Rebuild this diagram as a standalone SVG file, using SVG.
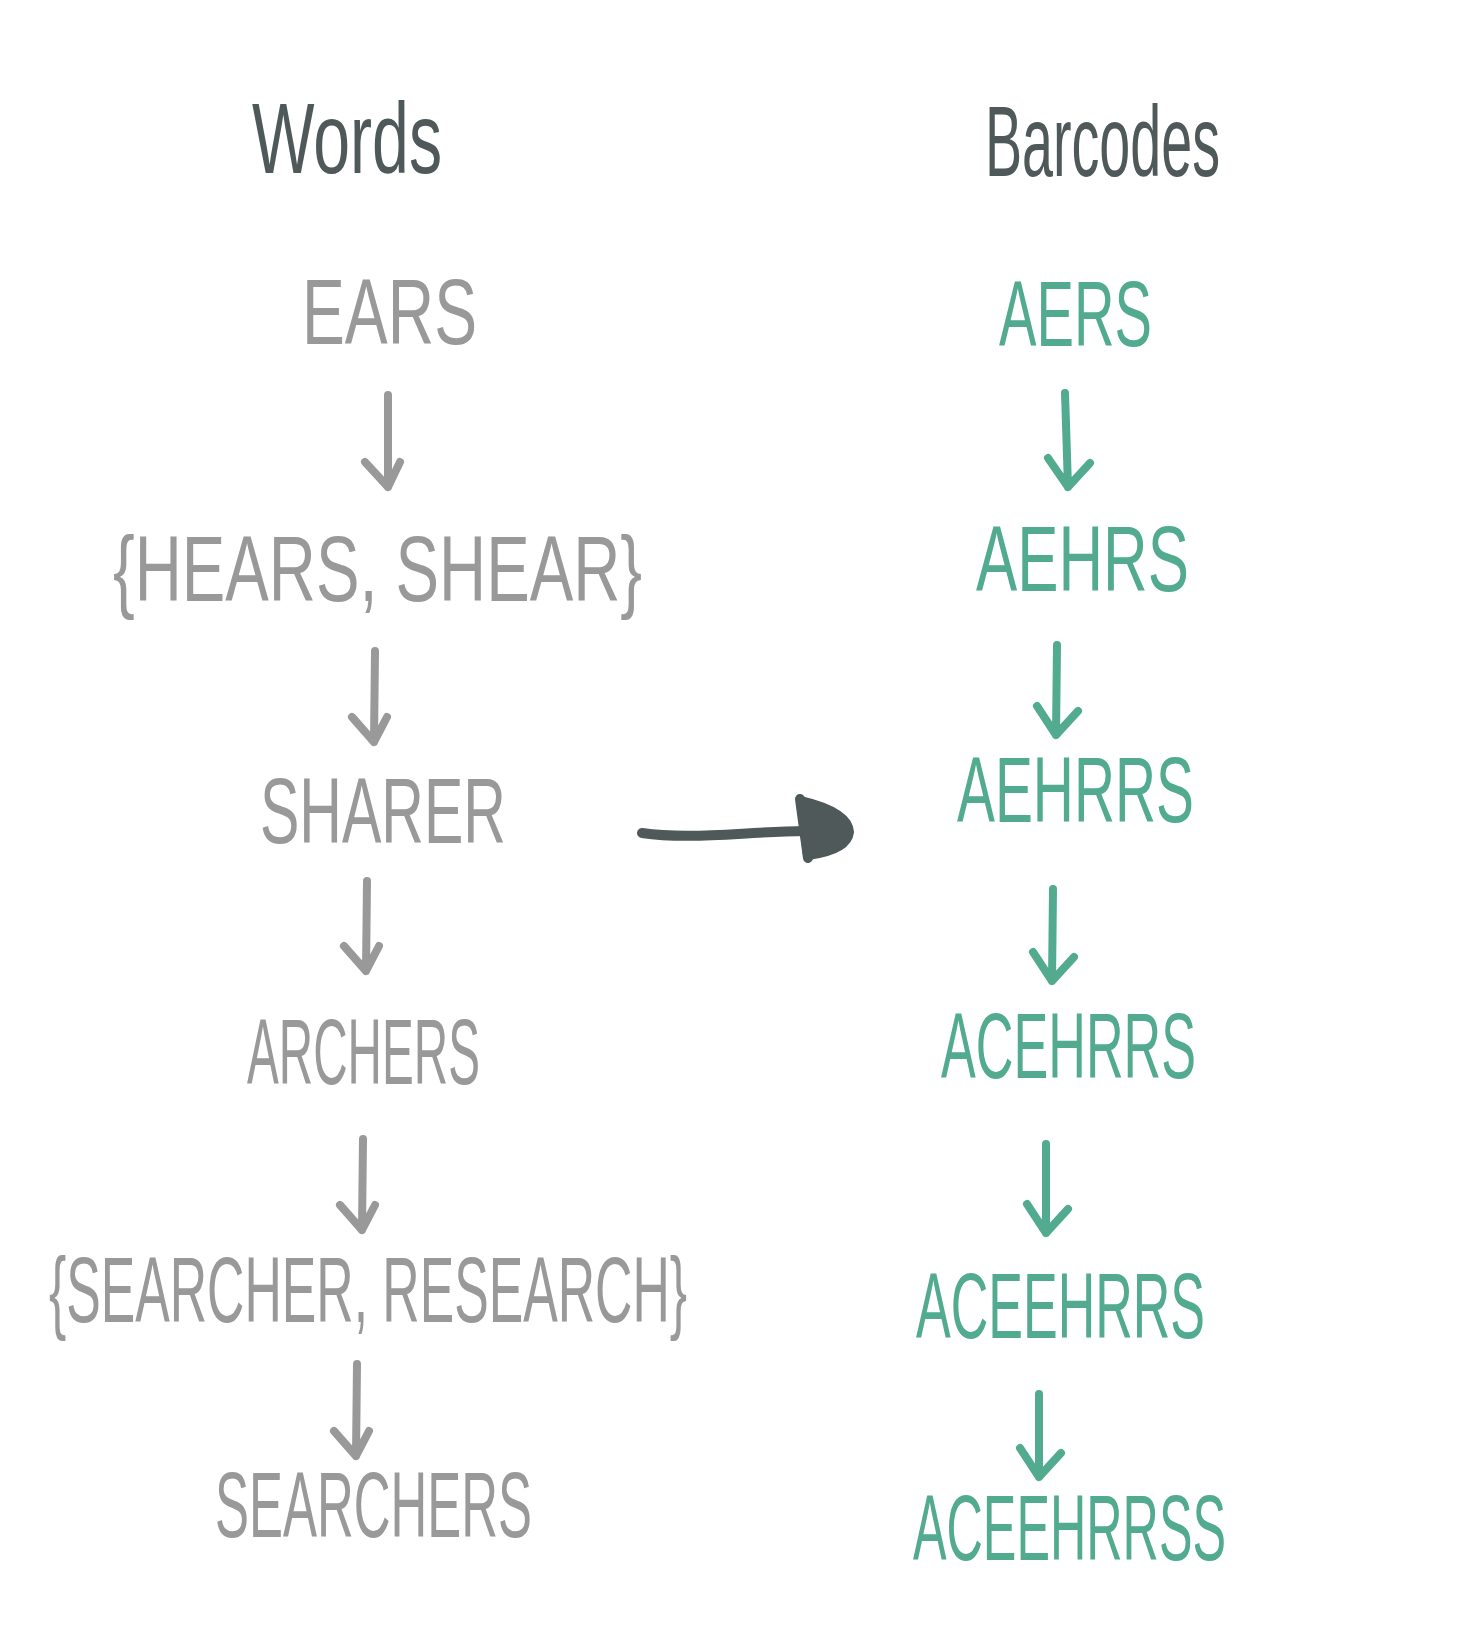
<svg xmlns="http://www.w3.org/2000/svg" width="1465" height="1645" viewBox="0 0 1465 1645">
<style>
text{font-family:"Liberation Sans","DejaVu Sans",sans-serif;}
.h{fill:#4f5959;font-size:100px;}
.g{fill:#999999;font-size:92px;}
.t{fill:#52ab8f;font-size:92px;}
.ag{fill:none;stroke:#999999;stroke-width:8;stroke-linecap:round;stroke-linejoin:round;}
.at{fill:none;stroke:#52ab8f;stroke-width:8;stroke-linecap:round;stroke-linejoin:round;}
.ad{stroke:#4f5959;stroke-width:10;stroke-linecap:round;stroke-linejoin:round;}
</style>
<rect width="1465" height="1645" fill="#ffffff"/>
<g id="words-title"><text class="h" x="252" y="173" textLength="190" lengthAdjust="spacingAndGlyphs">Words</text></g>
<g id="barcodes-title"><text class="h" x="985" y="176" textLength="235" lengthAdjust="spacingAndGlyphs">Barcodes</text></g>
<g id="w1"><text class="g" x="302" y="344" textLength="175" lengthAdjust="spacingAndGlyphs">EARS</text></g>
<g id="w2"><text class="g" x="113" y="601" textLength="529" lengthAdjust="spacingAndGlyphs">{HEARS, SHEAR}</text></g>
<g id="w3"><text class="g" x="260" y="843" textLength="246" lengthAdjust="spacingAndGlyphs">SHARER</text></g>
<g id="w4"><text class="g" x="247" y="1084" textLength="233" lengthAdjust="spacingAndGlyphs">ARCHERS</text></g>
<g id="w5"><text class="g" x="49" y="1322" textLength="638" lengthAdjust="spacingAndGlyphs">{SEARCHER, RESEARCH}</text></g>
<g id="w6"><text class="g" x="215" y="1537" textLength="317" lengthAdjust="spacingAndGlyphs">SEARCHERS</text></g>
<g id="b1"><text class="t" x="999" y="346" textLength="153" lengthAdjust="spacingAndGlyphs">AERS</text></g>
<g id="b2"><text class="t" x="976" y="591" textLength="213" lengthAdjust="spacingAndGlyphs">AEHRS</text></g>
<g id="b3"><text class="t" x="957" y="822" textLength="237" lengthAdjust="spacingAndGlyphs">AEHRRS</text></g>
<g id="b4"><text class="t" x="941" y="1078" textLength="255" lengthAdjust="spacingAndGlyphs">ACEHRRS</text></g>
<g id="b5"><text class="t" x="916" y="1338" textLength="289" lengthAdjust="spacingAndGlyphs">ACEEHRRS</text></g>
<g id="b6"><text class="t" x="913" y="1560" textLength="313" lengthAdjust="spacingAndGlyphs">ACEEHRRSS</text></g>
<g id="connectors">
<path class="ag" d="M388,395 L388,487 M365,462 L388,487 L400,462"/>
<path class="ag" d="M375,651 L374,742 M352,717 L374,742 L387,717"/>
<path class="ag" d="M367,881 L366,971 M344,946 L366,971 L379,946"/>
<path class="ag" d="M363,1139 L362,1230 M340,1205 L362,1230 L375,1205"/>
<path class="ag" d="M357,1364 L356,1456 M334,1431 L356,1456 L369,1431"/>
<path class="at" d="M1065,393 L1068,487 M1048,458 L1068,487 L1090,463"/>
<path class="at" d="M1057,645 L1056,735 M1037,706 L1056,735 L1078,711"/>
<path class="at" d="M1053,889 L1052,981 M1033,952 L1052,981 L1074,957"/>
<path class="at" d="M1046,1144 L1046,1233 M1027,1204 L1046,1233 L1068,1209"/>
<path class="at" d="M1039,1394 L1039,1477 M1020,1448 L1039,1477 L1061,1453"/>
<path class="ad" fill="none" d="M642,833 C690,840 740,832 805,831"/>
<path class="ad" fill="#4f5959" d="M801,801 Q848,812 849,832 Q847,850 808,855 Z"/>
<path class="ad" fill="none" d="M800,799 L808,858"/>
</g>
</svg>
